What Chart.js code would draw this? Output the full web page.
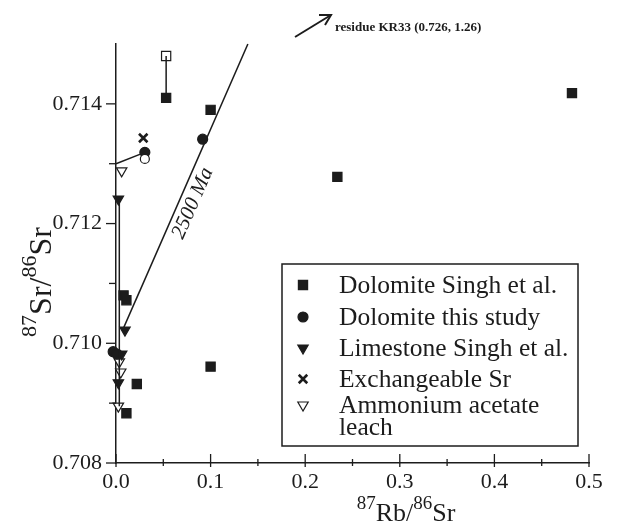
<!DOCTYPE html>
<html>
<head>
<meta charset="utf-8">
<script src="https://cdn.jsdelivr.net/npm/chart.js@4"></script>
<style>
  html, body { margin: 0; padding: 0; background: #fff; }
  #wrap { width: 624px; height: 527px; }
</style>
</head>
<body>
<div id="wrap"><canvas id="iso-chart" width="624" height="527"></canvas></div>
<script>
// values
const dolSinghX = [0.008, 0.011, 0.022, 0.011, 0.100, 0.053, 0.100, 0.234, 0.482];
const dolSinghY = [0.7108, 0.71072, 0.70932, 0.70883, 0.70961, 0.7141, 0.7139, 0.71278, 0.71418];
const dolStudyX = [0.0305, 0.0916, -0.003, 0.001];
const dolStudyY = [0.71319, 0.71341, 0.70986, 0.70982];
const limeX = [0.0025, 0.0095, 0.006, 0.0025];
const limeY = [0.71241, 0.71022, 0.70982, 0.70934];
const exchX = [0.0288];
const exchY = [0.71343];
const leachX = [0.006, 0.0035, 0.005, 0.0025];
const leachY = [0.71288, 0.70969, 0.70952, 0.70895];
// paired (open) symbols joined to their filled partners
const openSqX = [0.053], openSqY = [0.7148];
const openCircX = [0.0305], openCircY = [0.71308];
const isoX = [0.007, 0.1394];
const isoY = [0.71022, 0.715];
const legendLabels = ['Dolomite Singh et al.', 'Dolomite this study', 'Limestone Singh et al.', 'Exchangeable Sr', 'Ammonium acetate', 'leach'];

const pts = (xs, ys) => xs.map((x, i) => ({ x, y: ys[i] }));
const INK = '#1c1c1c';
const SERIF = '"Liberation Serif", "Times New Roman", serif';

const pointSets = [
  { pts: pts(dolSinghX, dolSinghY), style: 'rect', r: 6.5, rot: 0, fill: INK, bw: 1.2 },
  { pts: pts(dolStudyX, dolStudyY), style: 'circle', r: 5, rot: 0, fill: INK, bw: 1.2 },
  { pts: pts(limeX, limeY), style: 'triangle', r: 6, rot: 180, fill: INK, bw: 1.2 },
  { pts: pts(exchX, exchY), style: 'crossRot', r: 6, rot: 0, fill: INK, bw: 2.6 },
  { pts: pts(leachX, leachY), style: 'triangle', r: 6, rot: 180, fill: '#fff', bw: 1.2 }
];

function lineSet(data) {
  return { data, showLine: true, borderColor: INK, borderWidth: 1.5, pointRadius: 0, clip: false };
}

const datasets = [
  lineSet(pts(isoX, isoY)),
  lineSet([{ x: openSqX[0], y: openSqY[0] }, { x: dolSinghX[5], y: dolSinghY[5] }]),
  lineSet([{ x: 0.0, y: 0.713 }, { x: dolStudyX[0], y: dolStudyY[0] }]),
  lineSet([{ x: limeX[0] + 0.001, y: limeY[0] }, { x: leachX[3] + 0.001, y: leachY[3] }]),
  { data: pts(openSqX, openSqY), pointStyle: 'rect', pointRadius: 6.5, backgroundColor: '#fff', borderColor: INK, borderWidth: 1.2, clip: false },
  { data: pts(openCircX, openCircY), pointStyle: 'circle', pointRadius: 4.5, backgroundColor: '#fff', borderColor: INK, borderWidth: 1.2, clip: false }
];
pointSets.forEach(s => datasets.push({
  data: s.pts, pointStyle: s.style, pointRadius: s.r, rotation: s.rot,
  backgroundColor: s.fill, borderColor: INK, borderWidth: s.bw, clip: false
}));

// tick marks: major/minor, drawn from the scales
const tickMarks = {
  id: 'tickMarks',
  afterDraw(chart) {
    const { ctx } = chart;
    const xs = chart.scales.x, ys = chart.scales.y;
    const bottom = chart.chartArea.bottom, left = chart.chartArea.left;
    ctx.save();
    ctx.strokeStyle = INK;
    ctx.lineWidth = 1.3;
    ys.ticks.forEach(t => {
      const k = Math.round(t.value * 1000);
      if (k > 714) return;
      const py = ys.getPixelForValue(t.value);
      const len = k % 2 === 0 ? 10 : 7;
      ctx.beginPath(); ctx.moveTo(left - len, py); ctx.lineTo(left, py); ctx.stroke();
    });
    xs.ticks.forEach(t => {
      const k = Math.round(t.value * 100);
      const px = xs.getPixelForValue(t.value);
      const up = k % 10 === 0 ? 9 : 4, dn = k % 10 === 0 ? 4 : 3;
      ctx.beginPath(); ctx.moveTo(px, bottom - up); ctx.lineTo(px, bottom + dn); ctx.stroke();
    });
    ctx.restore();
  }
};

function drawSupTitle(ctx, parts, big, small, raise) {
  // parts: [text, isSup]
  const widths = parts.map(([t, sup]) => {
    ctx.font = `${sup ? small : big}px ${SERIF}`;
    return ctx.measureText(t).width;
  });
  let x = -widths.reduce((a, b) => a + b, 0) / 2;
  parts.forEach(([t, sup], i) => {
    ctx.font = `${sup ? small : big}px ${SERIF}`;
    ctx.fillText(t, x, sup ? -raise : 0);
    x += widths[i];
  });
}

const decorations = {
  id: 'decorations',
  afterDraw(chart) {
    const { ctx } = chart;
    const xs = chart.scales.x, ys = chart.scales.y;
    ctx.save();
    ctx.fillStyle = INK;
    ctx.textBaseline = 'alphabetic';
    ctx.textAlign = 'left';

    // axis titles
    ctx.save();
    ctx.translate(406, 521);
    drawSupTitle(ctx, [['87', true], ['Rb/', false], ['86', true], ['Sr', false]], 26, 19, 12);
    ctx.restore();
    ctx.save();
    ctx.translate(51, 282);
    ctx.rotate(-Math.PI / 2);
    drawSupTitle(ctx, [['87', true], ['Sr/', false], ['86', true], ['Sr', false]], 32, 22, 15);
    ctx.restore();

    // isochron label
    const lx = 0.0682, ly = 0.71243;
    const ang = Math.atan2(
      ys.getPixelForValue(isoY[1]) - ys.getPixelForValue(isoY[0]),
      xs.getPixelForValue(isoX[1]) - xs.getPixelForValue(isoX[0]));
    ctx.save();
    ctx.translate(xs.getPixelForValue(lx), ys.getPixelForValue(ly));
    ctx.rotate(ang);
    ctx.font = `italic 21px ${SERIF}`;
    ctx.textAlign = 'center';
    ctx.textBaseline = 'top';
    ctx.fillText('2500 Ma', 0, 3);
    ctx.restore();

    // residue note with arrow
    ctx.strokeStyle = INK;
    ctx.lineWidth = 2;
    ctx.beginPath(); ctx.moveTo(295, 37); ctx.lineTo(331, 15); ctx.stroke();
    ctx.beginPath(); ctx.moveTo(319, 15); ctx.lineTo(331, 15); ctx.lineTo(325, 25); ctx.stroke();
    ctx.font = `bold 13px ${SERIF}`;
    ctx.fillText('residue KR33 (0.726, 1.26)', 335, 31);

    // legend box
    ctx.lineWidth = 1.5;
    ctx.strokeRect(282, 264, 296, 182);
    const rowY = [293, 325, 356, 387, 413, 435];
    ctx.font = `25.5px ${SERIF}`;
    legendLabels.forEach((lab, i) => ctx.fillText(lab, 339, rowY[i]));
    pointSets.forEach((s, i) => {
      ctx.fillStyle = s.fill;
      ctx.lineWidth = s.bw;
      Chart.helpers.drawPoint(ctx, {
        pointStyle: s.style, radius: s.r, rotation: s.rot, borderWidth: s.bw
      }, 303, rowY[i] - 8);
      ctx.fillStyle = INK;
    });
    ctx.restore();
  }
};

new Chart(document.getElementById('iso-chart'), {
  type: 'scatter',
  data: { datasets },
  options: {
    responsive: false,
    animation: false,
    devicePixelRatio: 1,
    layout: { padding: { left: 0, top: 44, right: 35, bottom: 0 } },
    plugins: { legend: { display: false }, tooltip: { enabled: false } },
    scales: {
      x: {
        type: 'linear', min: 0, max: 0.5,
        grid: { display: false, drawTicks: false },
        border: { display: true, color: INK, width: 1.5 },
        ticks: {
          stepSize: 0.05, autoSkip: false, maxRotation: 0, padding: 6,
          color: INK, font: { family: SERIF, size: 22 },
          callback: v => Math.round(v * 100) % 10 === 0 ? v.toFixed(1) : ''
        },
        afterFit: s => { s.height = 64; s.paddingLeft = 0; s.paddingRight = 0; }
      },
      y: {
        type: 'linear', min: 0.708, max: 0.715,
        grid: { display: false, drawTicks: false },
        border: { display: true, color: INK, width: 1.5 },
        ticks: {
          stepSize: 0.001, autoSkip: false, padding: 14,
          color: INK, font: { family: SERIF, size: 22 },
          callback: v => { const k = Math.round(v * 1000); return k % 2 === 0 && k <= 714 ? v.toFixed(3) : ''; }
        },
        afterFit: s => { s.width = 116; s.paddingTop = 0; s.paddingBottom = 0; }
      }
    }
  },
  plugins: [tickMarks, decorations]
});
</script>
</body>
</html>
